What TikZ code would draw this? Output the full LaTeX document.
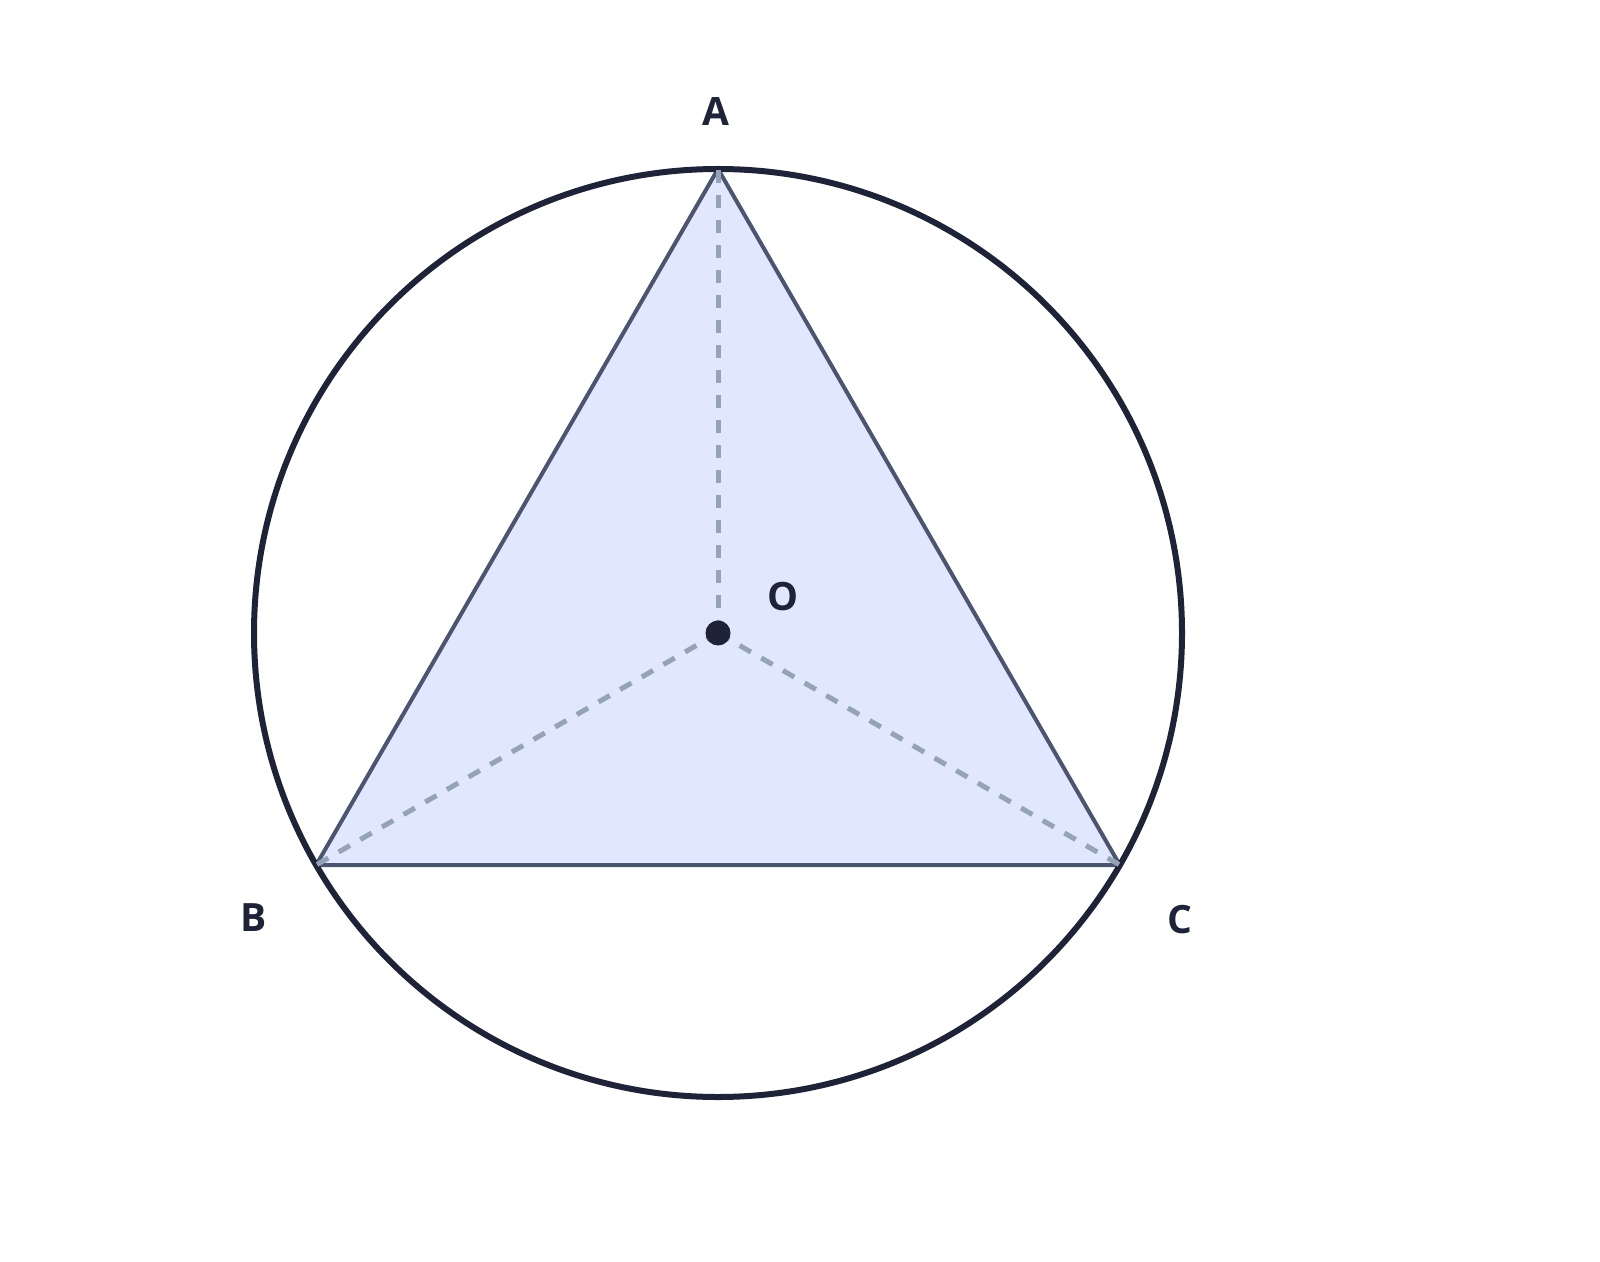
\documentclass[tikz,border=0pt]{standalone}
\usepackage{fontspec}
\setmainfont{Open Sans}
\usetikzlibrary{calc}
\definecolor{ink}{HTML}{1E2337}
\definecolor{edge}{HTML}{4B5570}
\definecolor{tri}{HTML}{E0E7FF}
\definecolor{dash}{HTML}{94A3B8}
\begin{document}
\begin{tikzpicture}[x=0.5pt,y=-0.5pt,
  lbl/.style={font=\fontsize{19.5}{24}\selectfont\bfseries, text=ink, inner sep=0pt},
  circ/.style={draw=ink, line width=3pt},
  triedge/.style={draw=edge, line width=2pt, fill=tri, line join=round},
  radius line/.style={draw=dash, line width=2.5pt, dash pattern=on 6.5pt off 6pt},
  centre dot/.style={circle, fill=ink, minimum size=12.5pt, inner sep=0pt}]
\useasboundingbox (0,0) rectangle (1600,1262);
\coordinate (O) at (718,633);
\coordinate (A) at ($(O)+(0,-464)$);
\coordinate (B) at ($(O)+(-401.8,232)$);
\coordinate (C) at ($(O)+(401.8,232)$);
\path[triedge] (A) -- (B) -- (C) -- cycle;
\draw[circ] (O) circle[radius=464];
\draw[radius line] (O) -- (A);
\draw[radius line] (O) -- (B);
\draw[radius line] (O) -- (C);
\node[centre dot] (dot) at (O) {};
\node[lbl] (la) at (716,112) {A};
\node[lbl] (lo) at (783,597) {O};
\node[lbl] (lb) at (254,918) {B};
\node[lbl] (lc) at (1180,920) {C};
\end{tikzpicture}
\end{document}
